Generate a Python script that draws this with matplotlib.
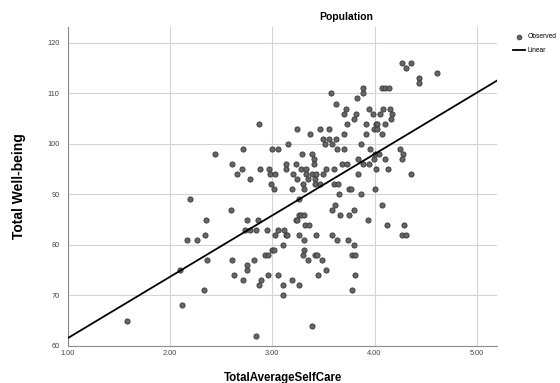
import matplotlib
matplotlib.use("Agg")
import matplotlib.pyplot as plt
import numpy as np

plt.rcParams['font.family'] = ['Liberation Sans', 'DejaVu Sans']

# TotalAverageSelfCare (x) and Total Well-being (y)
self_care = [
    4.27, 4.36, 4.31, 4.61, 4.43, 4.43,
    4.07, 4.10, 4.14, 3.89, 3.89, 3.83,
    3.57, 3.62, 3.72, 3.70, 3.82,
    3.95, 3.98, 4.08, 4.05, 4.15, 4.17, 4.16,
    3.80, 3.73, 3.92, 4.01, 4.02, 4.10,
    3.99, 4.02, 3.24, 3.47, 3.55,
    3.37, 3.70, 3.92, 4.07, 2.87,
    3.50, 3.55, 3.62, 3.52, 3.58, 3.63, 3.70, 3.87,
    3.15, 2.71, 3.00, 3.06, 3.96, 4.25,
    2.44, 3.29, 3.39, 3.41, 4.00, 4.04, 4.28, 4.27,
    3.84, 4.10, 3.99,
    2.61, 3.13, 3.23, 3.41, 3.68, 3.73, 3.89, 3.95,
    2.70, 2.88, 2.97, 3.13, 3.28, 3.33, 3.53, 3.60, 4.01, 4.13,
    2.65, 2.98, 3.03, 3.20, 3.33, 3.39, 3.43, 3.50, 3.84, 4.36,
    2.78, 3.24, 3.35, 3.42,
    2.99, 3.30, 3.42, 3.47, 3.60, 3.64,
    3.02, 3.19, 3.31, 3.75, 3.77, 4.00,
    3.65, 3.87, 2.20, 3.26, 3.61, 4.07,
    2.60, 3.58, 3.80,
    3.26, 3.28, 3.31, 3.66, 3.75,
    2.35, 2.75, 2.86, 3.23, 3.24, 3.94,
    3.32, 3.36, 4.12, 4.29,
    2.73, 2.78, 2.84, 2.95, 3.06, 3.11,
    2.34, 3.03, 3.13, 3.14, 3.26, 3.43, 3.58, 4.27, 4.31,
    2.17, 2.26, 3.31, 3.63, 3.74,
    3.10, 3.80, 3.00, 3.02, 3.31,
    2.93, 2.96, 3.30, 3.42, 3.44, 3.78, 3.81,
    2.36, 2.61, 2.82, 3.35, 3.49,
    2.75, 2.75, 2.10, 3.53,
    2.63, 2.96, 3.06, 3.45, 3.81,
    2.71, 2.89, 3.19,
    2.87, 3.10, 3.26,
    2.33, 3.78, 3.10, 2.12, 1.58, 3.39, 2.84,
]
well_being = [
    116, 116, 115, 114, 113, 112,
    111, 111, 111, 111, 110, 109,
    110, 108, 107, 106, 106,
    107, 106, 107, 106, 107, 106, 105,
    105, 104, 104, 104, 104, 104,
    103, 103, 103, 103, 103,
    102, 102, 102, 102, 104,
    101, 101, 101, 100, 100, 99, 99, 100,
    100, 99, 99, 99, 99, 99,
    98, 98, 98, 97, 98, 98, 98, 97,
    97, 97, 97,
    96, 96, 96, 96, 96, 96, 96, 96,
    95, 95, 95, 95, 95, 95, 95, 95, 95, 95,
    94, 94, 94, 94, 94, 94, 94, 94, 94, 94,
    93, 93, 93, 93,
    92, 92, 92, 92, 92, 92,
    91, 91, 91, 91, 91, 91,
    90, 90, 89, 89, 88, 88,
    87, 87, 87,
    86, 86, 86, 86, 86,
    85, 85, 85, 85, 85, 85,
    84, 84, 84, 84,
    83, 83, 83, 83, 83, 83,
    82, 82, 82, 82, 82, 82, 82, 82, 82,
    81, 81, 81, 81, 81,
    80, 80, 79, 79, 79,
    78, 78, 78, 78, 78, 78, 78,
    77, 77, 77, 77, 77,
    76, 75, 75, 75,
    74, 74, 74, 74, 74,
    73, 73, 73,
    72, 72, 72,
    71, 71, 70, 68, 65, 64, 62,
]

x_ticks = [1.0, 2.0, 3.0, 4.0, 5.0]
y_ticks = [60, 70, 80, 90, 100, 110, 120]

x = np.array(self_care)
y = np.array(well_being)
slope, intercept = np.polyfit(x, y, 1)

fig = plt.figure(figsize=(5.6, 3.83), dpi=100)
ax = fig.add_axes([0.121, 0.097, 0.767, 0.833])

ax.set_xlim(1.0, 5.2)
ax.set_ylim(60, 123.2)
ax.set_xticks(x_ticks)
ax.set_xticklabels([f"{t:.2f}" for t in x_ticks])
ax.set_yticks(y_ticks)
ax.grid(True, color='#d4d4d4', linewidth=0.8)
ax.set_axisbelow(True)

for side in ['top', 'right']:
    ax.spines[side].set_visible(False)
for side in ['left', 'bottom']:
    ax.spines[side].set_color('#8c8c8c')
    ax.spines[side].set_linewidth(0.8)
ax.tick_params(length=0, labelsize=5.3, labelcolor='#444444')
ax.tick_params(axis='x', pad=3)
ax.tick_params(axis='y', pad=6)

ax.scatter(x, y, s=14, facecolor='#666666', edgecolor='#383838',
           linewidth=0.6, zorder=3, label='Observed')
xl = np.array([1.0, 5.2])
ax.plot(xl, intercept + slope * xl, color='black', linewidth=1.3,
        zorder=4, label='Linear')

ax.set_xlabel('TotalAverageSelfCare', fontsize=8.3, fontweight='bold', labelpad=11)
ax.set_ylabel('Total Well-being', fontsize=10, fontweight='bold', labelpad=15)
fig.text(0.618, 0.955, 'Population', ha='center', va='center',
         fontsize=7.5, fontweight='bold')

ax.legend(loc='upper left', bbox_to_anchor=(1.030, 0.99), frameon=False,
          fontsize=4.8, handlelength=1.8, handletextpad=0.3, borderpad=0,
          labelspacing=1.05, markerscale=0.9)

fig.savefig('out.png', dpi=100)
